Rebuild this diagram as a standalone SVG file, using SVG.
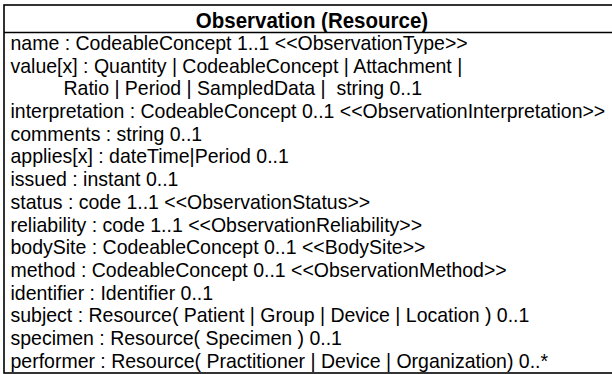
<svg xmlns="http://www.w3.org/2000/svg" width="612" height="374" viewBox="0 0 612 374">
<style>
.box{fill:#fff;stroke:#000;stroke-width:1.6}
.sep{stroke:#000;stroke-width:1.6}
.hdr{font-family:"Liberation Sans",Arial,sans-serif;font-weight:bold;font-size:20.5px;fill:#000}
.att{font-family:"Liberation Sans",Arial,sans-serif;font-size:19.5px;fill:#000;white-space:pre}
</style>
<rect width="612" height="374" fill="#fff"/>
<g id="observation">
<rect class="box" x="4" y="5" width="616" height="368"/>
<line class="sep" x1="4" y1="32.5" x2="620" y2="32.5"/>
<g transform="scale(1,1.08)">
<text class="hdr" x="312" y="25.9" text-anchor="middle">Observation (Resource)</text>
<text class="att" x="10.5" y="46.3">name : CodeableConcept 1..1 &lt;&lt;ObservationType&gt;&gt;</text>
<text class="att" x="10.5" y="67.31">value[x] : Quantity | CodeableConcept | Attachment |</text>
<text class="att" x="63.5" y="88.33">Ratio | Period | SampledData |  string 0..1</text>
<text class="att" x="10.5" y="109.35">interpretation : CodeableConcept 0..1 &lt;&lt;ObservationInterpretation&gt;&gt;</text>
<text class="att" x="10.5" y="130.37">comments : string 0..1</text>
<text class="att" x="10.5" y="151.39">applies[x] : dateTime|Period 0..1</text>
<text class="att" x="10.5" y="172.41">issued : instant 0..1</text>
<text class="att" x="10.5" y="193.43">status : code 1..1 &lt;&lt;ObservationStatus&gt;&gt;</text>
<text class="att" x="10.5" y="214.44">reliability : code 1..1 &lt;&lt;ObservationReliability&gt;&gt;</text>
<text class="att" x="10.5" y="235.46">bodySite : CodeableConcept 0..1 &lt;&lt;BodySite&gt;&gt;</text>
<text class="att" x="10.5" y="256.48">method : CodeableConcept 0..1 &lt;&lt;ObservationMethod&gt;&gt;</text>
<text class="att" x="10.5" y="277.5">identifier : Identifier 0..1</text>
<text class="att" x="10.5" y="298.52">subject : Resource( Patient | Group | Device | Location ) 0..1</text>
<text class="att" x="10.5" y="319.54">specimen : Resource( Specimen ) 0..1</text>
<text class="att" x="10.5" y="340.56">performer : Resource( Practitioner | Device | Organization) 0..*</text>
</g>
</g>
</svg>
